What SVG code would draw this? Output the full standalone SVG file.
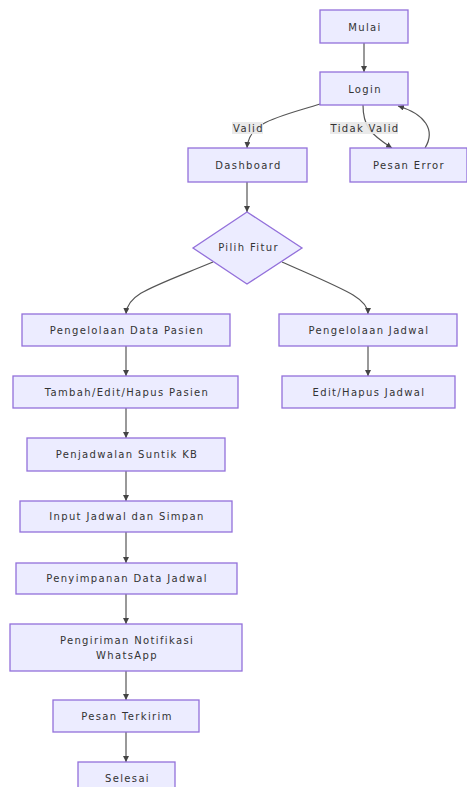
<svg xmlns="http://www.w3.org/2000/svg" width="467" height="787" viewBox="0 0 467 787">
<defs>
<style>
.n{fill:#ECECFF;stroke:#9370DB;stroke-width:1.3}
.t{font-family:"DejaVu Sans",Verdana,sans-serif;font-size:10px;letter-spacing:1.35px;fill:#333;text-anchor:middle;dominant-baseline:central}
.e{fill:none;stroke:#555;stroke-width:1.2;marker-end:url(#arr)}
.lb{fill:#E8E8E8;opacity:0.9}
</style>
<marker id="arr" viewBox="0 0 10 10" refX="10" refY="5" markerWidth="6" markerHeight="6" orient="auto" markerUnits="userSpaceOnUse">
<path d="M0,0 L10,5 L0,10 z" fill="#444"/>
</marker>
</defs>
<rect width="467" height="787" fill="#fff"/>
<g id="edges">
<path class="e" d="M364,43 L364,72"/>
<path class="e" d="M320,104 C275,118 249,122 247,148"/>
<path class="e" d="M363,105 C363,126 370,134 392,148"/>
<path class="e" d="M425,148 C436,130 425,114 398,106"/>
<path class="e" d="M247,182 L247,212"/>
<path class="e" d="M213,262 C150,288 127,294 126,314"/>
<path class="e" d="M282,262 C345,290 368,298 368,314"/>
<path class="e" d="M368,346 L368,376"/>
<path class="e" d="M126,346 L126,376"/>
<path class="e" d="M126,408 L126,438"/>
<path class="e" d="M126,471 L126,501"/>
<path class="e" d="M126,532 L126,563"/>
<path class="e" d="M126,594 L126,624"/>
<path class="e" d="M126,671 L126,700"/>
<path class="e" d="M126,732 L126,762"/>
</g>
<g id="edge-labels">
<rect class="lb" x="232" y="122" width="31" height="12"/>
<text class="t" x="248.5" y="128">Valid</text>
<rect class="lb" x="330" y="122" width="68" height="12"/>
<text class="t" x="365" y="128">Tidak Valid</text>
</g>
<g id="mulai"><rect class="n" x="320" y="10" width="88" height="33"/><text class="t" x="365" y="27">Mulai</text></g>
<g id="login"><rect class="n" x="320" y="72" width="88" height="33"/><text class="t" x="365" y="89">Login</text></g>
<g id="dashboard"><rect class="n" x="188" y="148" width="119" height="34"/><text class="t" x="248.5" y="165">Dashboard</text></g>
<g id="pesan-error"><rect class="n" x="350" y="148" width="117" height="34"/><text class="t" x="409" y="165">Pesan Error</text></g>
<g id="pilih-fitur"><polygon class="n" points="247,212 302,248 247,284 193,248"/><text class="t" x="248.5" y="247">Pilih Fitur</text></g>
<g id="pengelolaan-data-pasien"><rect class="n" x="22" y="314" width="208" height="32"/><text class="t" x="127" y="330">Pengelolaan Data Pasien</text></g>
<g id="pengelolaan-jadwal"><rect class="n" x="279" y="314" width="178" height="32"/><text class="t" x="369" y="330">Pengelolaan Jadwal</text></g>
<g id="tambah-edit-hapus"><rect class="n" x="13" y="376" width="225" height="32"/><text class="t" x="127" y="392">Tambah/Edit/Hapus Pasien</text></g>
<g id="edit-hapus-jadwal"><rect class="n" x="282" y="376" width="173" height="32"/><text class="t" x="369" y="392">Edit/Hapus Jadwal</text></g>
<g id="penjadwalan"><rect class="n" x="27" y="438" width="198" height="33"/><text class="t" x="127" y="454.5">Penjadwalan Suntik KB</text></g>
<g id="input-jadwal"><rect class="n" x="20" y="501" width="212" height="31"/><text class="t" x="127" y="516.5">Input Jadwal dan Simpan</text></g>
<g id="penyimpanan"><rect class="n" x="16" y="563" width="221" height="31"/><text class="t" x="127" y="578.5">Penyimpanan Data Jadwal</text></g>
<g id="pengiriman"><rect class="n" x="10" y="624" width="232" height="47"/><text class="t" x="127" y="640">Pengiriman Notifikasi</text><text class="t" x="127" y="655">WhatsApp</text></g>
<g id="pesan-terkirim"><rect class="n" x="53" y="700" width="146" height="32"/><text class="t" x="127" y="716">Pesan Terkirim</text></g>
<g id="selesai"><rect class="n" x="78" y="762" width="97" height="33"/><text class="t" x="127.5" y="778">Selesai</text></g>
</svg>
